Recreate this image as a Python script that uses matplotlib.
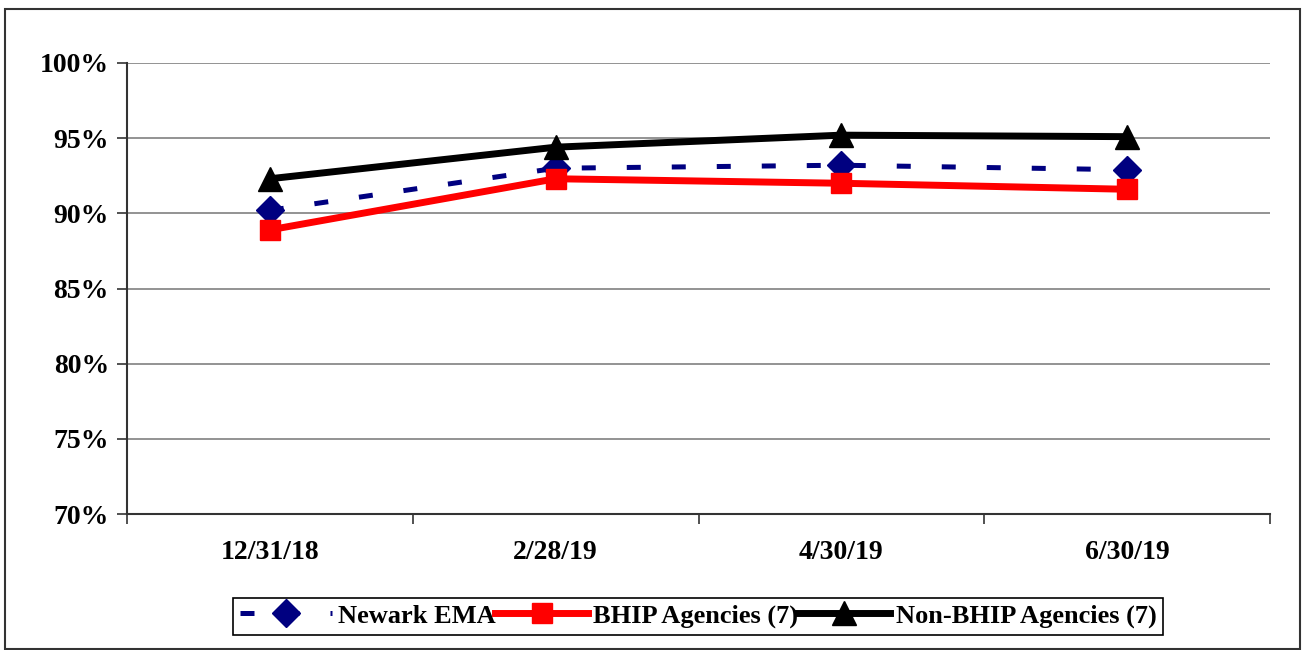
import matplotlib.pyplot as plt
from matplotlib.patches import Rectangle
from matplotlib.ticker import FixedLocator, FuncFormatter

categories = ["12/31/18", "2/28/19", "4/30/19", "6/30/19"]
newark_ema = [90.2, 93.0, 93.2, 92.9]
bhip = [88.9, 92.3, 92.0, 91.6]
non_bhip = [92.3, 94.4, 95.2, 95.1]
yticks = [70, 75, 80, 85, 90, 95, 100]

plt.rcParams['font.family'] = ['Liberation Serif', 'DejaVu Serif']
plt.rcParams['font.weight'] = 'bold'

fig = plt.figure(figsize=(13.05, 6.5), dpi=100)
ax = fig.add_axes([0.0973, 0.2092, 0.8759, 0.6939])

x = range(len(categories))
ax.plot(x, newark_ema, color='#000080', lw=3.6, dashes=(2.8, 6.2),
        marker='D', markersize=14, label='Newark EMA', zorder=3)
ax.plot(x, bhip, color='#ff0000', lw=5, marker='s', markersize=15,
        label='BHIP Agencies (7)', zorder=4)
ax.plot(x, non_bhip, color='black', lw=5, marker='^', markersize=17,
        label='Non-BHIP Agencies (7)', zorder=5)

ax.set_xlim(-0.5, len(categories) - 0.5)
ax.set_ylim(70, 100)
ax.set_yticks(yticks)
ax.yaxis.set_major_formatter(FuncFormatter(lambda v, p: f"{v:.0f}%"))
ax.grid(axis='y', color='#808080', lw=1.2)
ax.set_axisbelow(True)

ax.set_xticks(list(x))
ax.set_xticklabels(categories)
ax.xaxis.set_minor_locator(FixedLocator([i - 0.5 for i in range(len(categories) + 1)]))
ax.tick_params(axis='x', which='major', length=0, pad=19, labelsize=20)
ax.tick_params(axis='x', which='minor', length=7, width=1.2, color='#333333')
ax.tick_params(axis='y', length=7, width=1.2, color='#333333', labelsize=20, pad=6)

for s in ['top', 'right']:
    ax.spines[s].set_visible(False)
for s in ['left', 'bottom']:
    ax.spines[s].set_color('#333333')
    ax.spines[s].set_linewidth(1.5)

leg = fig.legend(loc='center', bbox_to_anchor=(0.535, 0.052), ncol=3,
                 fontsize=19, handlelength=3.5, handletextpad=0.2,
                 columnspacing=0.0, borderpad=0.25, borderaxespad=0.0,
                 fancybox=False, edgecolor='black', framealpha=1)
leg.get_frame().set_linewidth(1.2)

fig.patches.append(Rectangle((0.004, 0.002), 0.992, 0.984, transform=fig.transFigure,
                             fill=False, edgecolor='#333333', lw=1.5))

fig.savefig('out.png', dpi=100)
